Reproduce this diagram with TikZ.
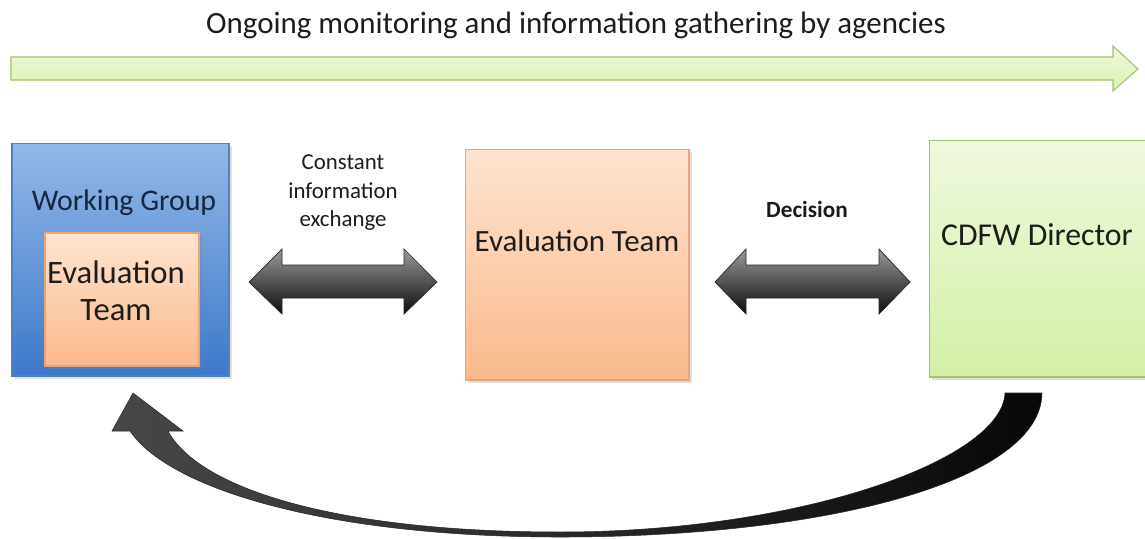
\documentclass[tikz,border=0pt]{standalone}
\usepackage{fontspec}
\setmainfont{Carlito}
\usetikzlibrary{calc,shadows}

\definecolor{wgtop}{HTML}{93B8E8}
\definecolor{wgbot}{HTML}{3C79C9}
\definecolor{wgline}{HTML}{4F81BD}
\definecolor{ortop}{HTML}{FDE4D0}
\definecolor{orbot}{HTML}{FAB98B}
\definecolor{orline}{HTML}{E9A577}
\definecolor{grtop}{HTML}{EFF9DE}
\definecolor{grbot}{HTML}{D3F0A6}
\definecolor{grline}{HTML}{A3C267}
\definecolor{navy}{HTML}{17253F}
\definecolor{txt}{HTML}{1C1C1C}

\tikzset{
  panel/.style={rectangle,inner sep=0pt,line width=0.6pt,
    drop shadow={opacity=0.25,shadow xshift=1.5pt,shadow yshift=-1.5pt}},
  bluepanel/.style={panel,draw=wgline,top color=wgtop,bottom color=wgbot},
  orangepanel/.style={panel,draw=orline,top color=ortop,bottom color=orbot},
  greenpanel/.style={panel,draw=grline,top color=grtop,bottom color=grbot},
  big/.style={font=\fontsize{17.6}{21}\selectfont,text=txt,align=center},
  small/.style={font=\fontsize{13}{16.2}\selectfont,text=txt,align=center},
}

% double arrow between two points, #3 = head length
\newcommand{\dblarrow}[3]{%
  \shade[top color=black!40,bottom color=black!95,draw=black!85,line width=0.4pt]
    (#1) -- ($(#1)+(#3,-33)$) -- ($(#1)+(#3,-17)$) -- ($(#2)+(-#3,-17)$)
    -- ($(#2)+(-#3,-33)$) -- (#2) -- ($(#2)+(-#3,32)$) -- ($(#2)+(-#3,16)$)
    -- ($(#1)+(#3,16)$) -- ($(#1)+(#3,32)$) -- cycle;}

\begin{document}
\begin{tikzpicture}[x=0.02cm,y=-0.02cm]
  \useasboundingbox (0,0) rectangle (1145,538);

  % timeline
  \node[big] (title) at (576,25) {Ongoing monitoring and information gathering by agencies};
  \shade[top color=grtop,bottom color=grbot!90,draw=grline,line width=0.6pt]
    (11,57) -- (1113,57) -- (1113,46) -- (1138,69) -- (1113,91) -- (1113,80) -- (11,80) -- cycle;

  % boxes
  \node[bluepanel,minimum width=4.34cm,minimum height=4.66cm] (wg) at (120.5,259.5) {};
  \node[big,text=navy,font=\fontsize{17}{20}\selectfont] (wglbl) at (124,203) {Working Group};
  \node[orangepanel,minimum width=3.08cm,minimum height=2.66cm] (inner) at (122,299.5) {};
  \node[big,font=\fontsize{18.6}{21}\selectfont] (innerlbl) at (116,291) {Evaluation\\Team};

  \node[orangepanel,minimum width=4.48cm,minimum height=4.62cm] (et) at (577,264.5) {};
  \node[big] (etlbl) at (577,241) {Evaluation Team};

  \node[greenpanel,minimum width=4.44cm,minimum height=4.74cm] (cdfw) at (1040,258.5) {};
  \node[big,font=\fontsize{18.1}{21}\selectfont] (cdfwlbl) at (1037,235) {CDFW Director};

  % exchanges
  \node[small] (xchlbl) at (343,193) {Constant\\information\\exchange};
  \coordinate (xl) at (249,282);
  \coordinate (xr) at (437,282);
  \dblarrow{xl}{xr}{33}

  \node[small,font=\fontsize{13.2}{16}\selectfont\bfseries] (declbl) at (807,209) {Decision};
  \coordinate (dl) at (715,282);
  \coordinate (dr) at (910,282);
  \dblarrow{dl}{dr}{31}

  % feedback loop
  \shade[left color=black!72,right color=black!97,draw=black!85,line width=0.3pt]
    (1042,393) .. controls (1041,480) and (830,537) .. (560,537)
    .. controls (330,537) and (170,490) .. (130,431)
    -- (112,431) -- (133,393) -- (183,431) -- (168,431)
    .. controls (200,490) and (340,532) .. (560,532)
    .. controls (800,532) and (1002,460) .. (1005,393) -- cycle;
\end{tikzpicture}
\end{document}
